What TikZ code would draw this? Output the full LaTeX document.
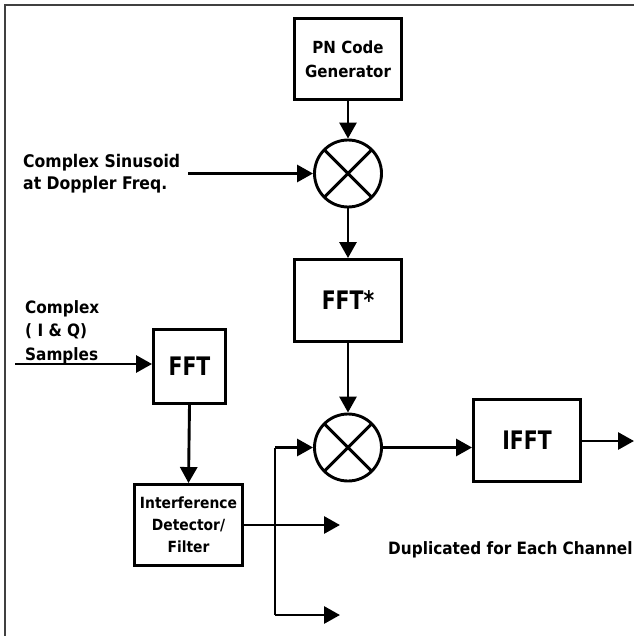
\documentclass[tikz,border=0pt]{standalone}
\usepackage{fontspec}
\setmainfont[FakeStretch=0.9]{DejaVu Sans}
\newfontfamily\boxfont[FakeStretch=0.8]{DejaVu Sans}
\usetikzlibrary{arrows.meta,calc}
\begin{document}
\begin{tikzpicture}[x=1pt,y=-1pt,
  blk/.style={draw, line width=2.9pt, inner sep=0pt, align=center},
  mix/.style={circle, draw, line width=2.9pt, minimum size=67pt, inner sep=0pt,
    path picture={\draw[line width=2.9pt]
      (path picture bounding box.north west) -- (path picture bounding box.south east)
      (path picture bounding box.north east) -- (path picture bounding box.south west);}},
  conn/.style={line width=2.9pt, -{Triangle[length=16pt,width=17pt]}},
  wire/.style={line width=2.9pt},
  lbl/.style={inner sep=0pt, align=left},
  big/.style={font=\boxfont\bfseries\fontsize{25.5}{30}\selectfont},
  frame/.style={line width=1.8pt, draw=black!75}]
\useasboundingbox (0,0) rectangle (634,636);
\draw[frame] (5,636) -- (5,5) -- (634,5);

% blocks
\node[blk, minimum width=107pt, minimum height=81pt,
      font=\bfseries\fontsize{16.7}{24}\selectfont] (pn) at (348,59) {PN Code\\Generator};
\node[mix] (m1) at (348,173.5) {};
\node[blk, big, minimum width=107pt, minimum height=82pt] (fftc) at (348,300.5) {FFT*};
\node[blk, big, minimum width=72pt, minimum height=74pt] (fft) at (189.5,366.5) {FFT};
\node[blk, minimum width=108pt, minimum height=81pt,
      font=\bfseries\fontsize{15.4}{22}\selectfont] (idf) at (188.5,525) {Interference\\Detector/\\Filter};
\node[mix] (m2) at (348,447.5) {};
\node[blk, big, minimum width=107pt, minimum height=82pt] (ifft) at (527,440.5) {IFFT};

% labels
\node[lbl, anchor=west, font=\bfseries\fontsize{17.4}{22}\selectfont] (lsin) at (23,174)
  {Complex Sinusoid\\at Doppler Freq.};
\node[lbl, anchor=west, font=\bfseries\fontsize{17}{23.5}\selectfont] (liq) at (25,332)
  {Complex\\( I \& Q)\\Samples};
\node[lbl, anchor=west, font=\bfseries\fontsize{17}{20}\selectfont] (ldup) at (388,550)
  {Duplicated for Each Channel};

% coordinates
\coordinate (sinin) at (188,173.5);
\coordinate (iqin) at (15,364);
\coordinate (br) at (275,525);
\coordinate (brtop) at (275,447.5);
\coordinate (brbot) at (275,615);
\coordinate (outmid) at (340,525);
\coordinate (outbot) at (340,615);
\coordinate (out) at (634,441);

% connectors
\draw[conn] (pn.south) -- (m1.north);
\draw[conn] (sinin) -- (m1.west);
\draw[conn] (m1.south) -- (fftc.north);
\draw[conn] (fftc.south) -- (m2.north);
\draw[conn] (iqin) -- (iqin -| fft.west);
\draw[conn] (fft.south) -- (idf.north);
\draw[conn] (idf.east |- br) -- (outmid);
\draw[wire] (brtop) -- (brbot);
\draw[conn] (brtop) -- (m2.west);
\draw[conn] (brbot) -- (outbot);
\draw[conn] (m2.east) -- (m2.east -| ifft.west);
\draw[conn] (ifft.east |- out) -- (out);
\end{tikzpicture}
\end{document}
